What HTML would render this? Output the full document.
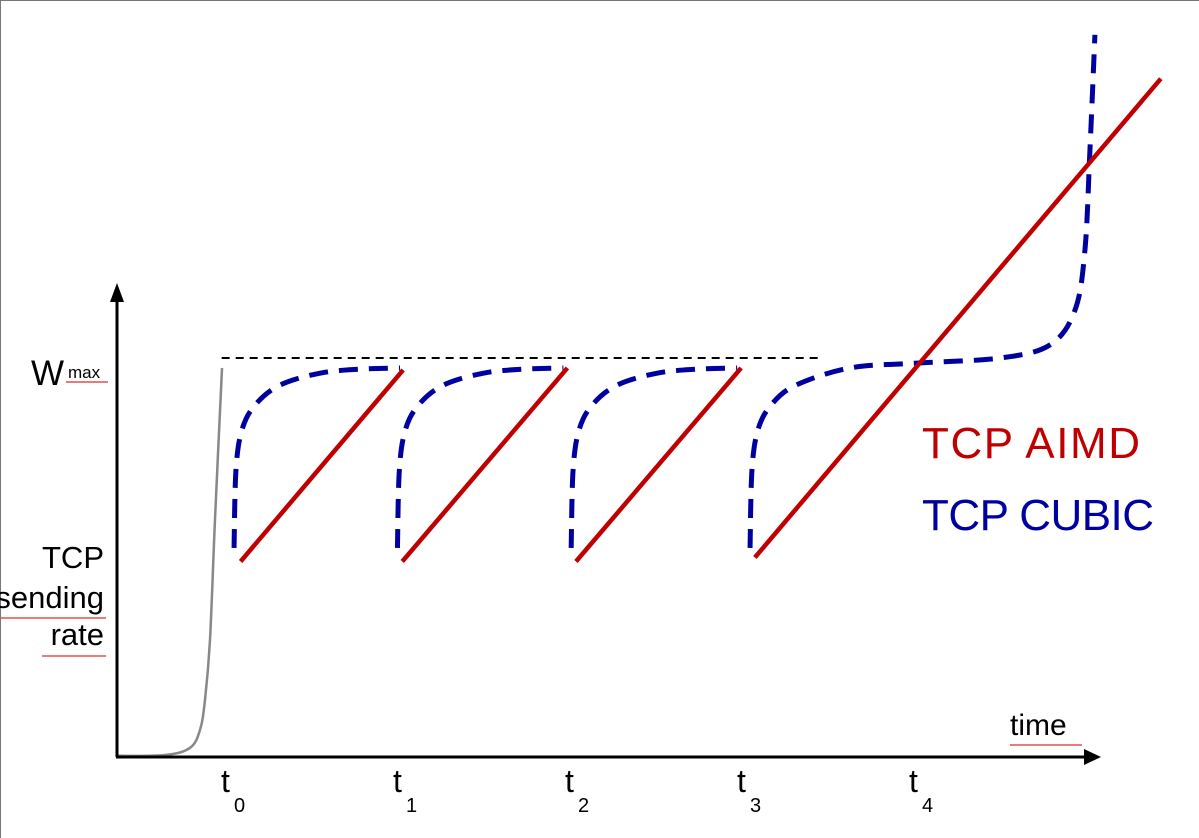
<!DOCTYPE html>
<html><head><meta charset="utf-8"><style>
html,body{margin:0;padding:0;background:#fff;overflow:hidden;width:1199px;height:838px}
svg{display:block}
text{font-family:"Liberation Sans",sans-serif}
</style></head><body>
<svg id="chart" width="1199" height="838" viewBox="0 0 1199 838" xmlns="http://www.w3.org/2000/svg">
<g>
<line x1="0" y1="0.5" x2="1199" y2="0.5" stroke="#777" stroke-width="1"/>
<line x1="0.5" y1="0" x2="0.5" y2="838" stroke="#777" stroke-width="1"/>
</g>
<g id="marks"></g>
<g>
<line x1="117" y1="757" x2="117" y2="300" stroke="#000" stroke-width="3"/>
<polygon points="110,302 124,302 117,283" fill="#000"/>
</g>
<g>
<line x1="116" y1="757" x2="1086" y2="757" stroke="#000" stroke-width="3"/>
<polygon points="1084,749 1084,765 1101,757" fill="#000"/>
</g>
<g>
<text x="31" y="385" font-size="35">W</text>
<text x="68" y="378" font-size="17">max</text>
<line x1="66" y1="382" x2="108" y2="382" stroke="#e05050" stroke-width="1.5"/>
</g>
<g font-size="31" text-anchor="end">
<text x="104" y="568">TCP</text>
<text x="104" y="608">sending</text>
<text x="104" y="645">rate</text>
<line x1="0" y1="618" x2="106" y2="618" stroke="#e05050" stroke-width="1.5"/>
<line x1="42" y1="656" x2="106" y2="656" stroke="#e05050" stroke-width="1.5"/>
</g>
<g>
<text x="1010" y="735" font-size="30">time</text>
<line x1="1010" y1="745" x2="1082" y2="745" stroke="#e05050" stroke-width="1.5"/>
</g>
<g id="ticks"></g>
<text x="922" y="458" font-size="44" fill="#c00000" textLength="218">TCP AIMD</text>
<text x="922" y="530" font-size="44" fill="#0000a0" textLength="232">TCP CUBIC</text>
</svg>
<script>
const tickLabels = ["0","1","2","3","4"];
const tickTimes = [0,1,2,3,4];
const wmax = 1.0;
const aimdStart = [0.05,0.99,2.0,3.04];
const aimdEnd = [0.995,1.95,2.96,5.4];
const aimdLow = [0.49,0.49,0.49,0.5];
const aimdHigh = [0.97,0.975,0.975,1.70];
const cubicOffsets = [0,0.95,1.96,3.0];
const cubicShapeT = [0.012,0.023,0.058,0.134,0.279,0.512,0.744,0.977];
const cubicShapeW = [0.524,0.719,0.820,0.882,0.932,0.962,0.972,0.975];
const cubicTailT = [3.593,3.971,4.465,4.756,4.901,4.959,4.988,5.017];
const cubicTailW = [0.975,0.987,1.0,1.033,1.12,1.271,1.521,1.81];
const slowStartT = [-0.669,-0.390,-0.244,-0.186,-0.157,-0.128,-0.099,-0.058];
const slowStartW = [0.003,0.005,0.023,0.068,0.143,0.293,0.594,0.975];

const X = t => 232 + t*172;
const Y = w => 757 - w*399;
const NS = "http://www.w3.org/2000/svg";
const marks = document.getElementById('marks');
function mk(tag, attrs){const e=document.createElementNS(NS,tag);for(const k in attrs)e.setAttribute(k,attrs[k]);return e;}

function smooth(pts){
  let d='M'+pts[0][0]+','+pts[0][1];
  for(let i=0;i<pts.length-1;i++){
    const p0=pts[Math.max(0,i-1)],p1=pts[i],p2=pts[i+1],p3=pts[Math.min(pts.length-1,i+2)];
    const c1=[p1[0]+(p2[0]-p0[0])/6,p1[1]+(p2[1]-p0[1])/6];
    const c2=[p2[0]-(p3[0]-p1[0])/6,p2[1]-(p3[1]-p1[1])/6];
    d+=' C'+c1.join(',')+' '+c2.join(',')+' '+p2.join(',');
  }
  return d;
}

const ssPts = slowStartT.map((t,i)=>[X(t),Y(slowStartW[i])]);
const ss = mk('path',{d:smooth(ssPts),fill:'none',stroke:'#888','stroke-width':2.5,'stroke-linejoin':'round'});


marks.appendChild(ss);

const wl = mk('line',{x1:X(-0.06),x2:X(3.42),y1:Y(wmax),y2:Y(wmax),stroke:'#000','stroke-width':2,'stroke-dasharray':'8 6'});


marks.appendChild(wl);

cubicOffsets.forEach((off,k)=>{
  let pts=[];
  if(k<3){
    cubicShapeT.forEach((t,i)=>pts.push([X(off+t),Y(cubicShapeW[i])]));
  } else {
    for(let i=0;i<5;i++) pts.push([X(off+cubicShapeT[i]),Y(cubicShapeW[i])]);
    cubicTailT.forEach((t,i)=>pts.push([X(t),Y(cubicTailW[i])]));
  }
  const p=mk('path',{d:smooth(pts),fill:'none',stroke:'#0000a0','stroke-width':5,'stroke-dasharray':'19 11'});
  
  
  marks.appendChild(p);
});

aimdStart.forEach((s,k)=>{
  const l=mk('line',{x1:X(s),y1:Y(aimdLow[k]),x2:X(aimdEnd[k]),y2:Y(aimdHigh[k]),stroke:'#c00000','stroke-width':4.5});
  
  
  marks.appendChild(l);
});

const tg=document.getElementById('ticks');
tickTimes.forEach((t,i)=>{
  const g=mk('g',{});
  
  
  const a=mk('text',{x:X(t)-11,y:792,'font-size':32});a.textContent='t';
  const b=mk('text',{x:X(t)+2,y:812,'font-size':20});b.textContent=tickLabels[i];
  g.appendChild(a);g.appendChild(b);tg.appendChild(g);
});
</script>
</body></html>
